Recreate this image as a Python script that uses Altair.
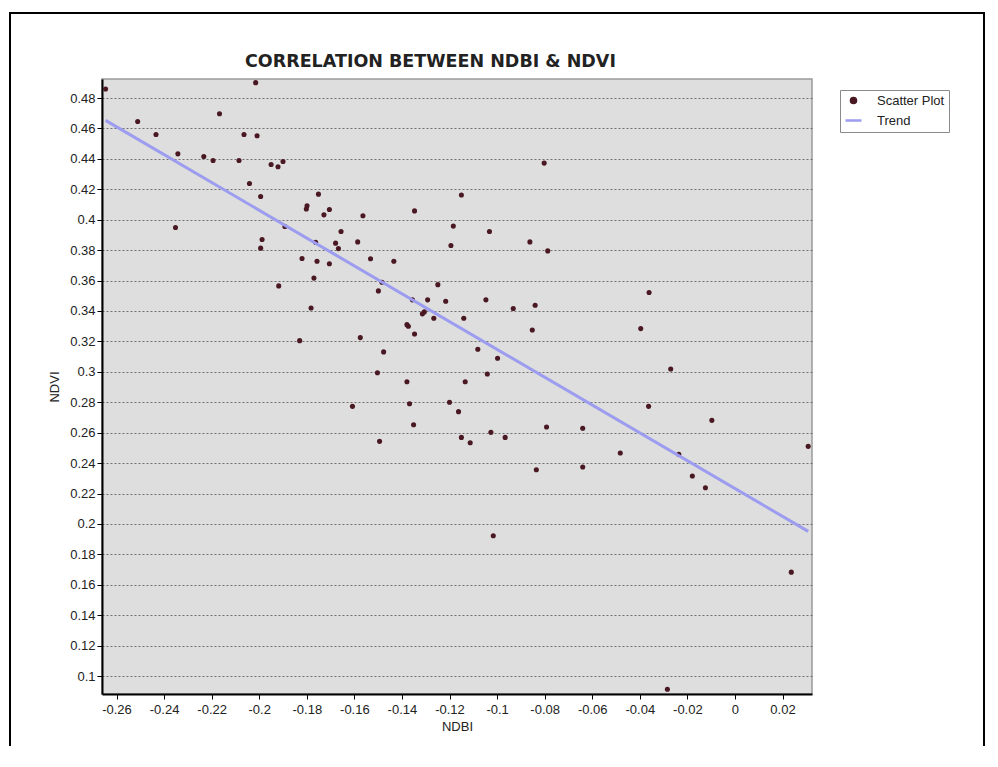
import altair as alt
import pandas as pd

# --- data ---
ndbi = [
    -0.2646, -0.2511, -0.2434, -0.2342, -0.2352, -0.2233, -0.2194, -0.2167, -0.2085, -0.2064,
    -0.2041, -0.2015, -0.2009, -0.1994, -0.1988, -0.1994, -0.1950, -0.1921, -0.1900, -0.1918,
    -0.1802, -0.1799, -0.1820, -0.1757, -0.1763, -0.1770, -0.1751, -0.1782, -0.1830, -0.1892,
    -0.1728, -0.1705, -0.1656, -0.1679, -0.1667, -0.1586, -0.1564, -0.1705, -0.1532, -0.1434,
    -0.1484, -0.1499, -0.1347, -0.1249, -0.1292, -0.1356, -0.1216, -0.1184, -0.1194, -0.1150,
    -0.1032, -0.1047, -0.0932, -0.0840, -0.0862, -0.0787, -0.0802, -0.0361, -0.1575, -0.1477,
    -0.1503, -0.1608, -0.1494, -0.1379, -0.1373, -0.1347, -0.1314, -0.1306, -0.1266, -0.1140,
    -0.1379, -0.1368, -0.1351, -0.1200, -0.1162, -0.1134, -0.1150, -0.1113, -0.1081, -0.1041,
    -0.0998, -0.0852, -0.0792, -0.1026, -0.0966, -0.0835, -0.1016, -0.0396, -0.0270, -0.0363,
    -0.0097, -0.0640, -0.0640, -0.0482, -0.0236, -0.0179, -0.0124, 0.0308, 0.0237, -0.0284,
]
ndvi = [
    0.4859, 0.4646, 0.4560, 0.4433, 0.3949, 0.4416, 0.4389, 0.4697, 0.4389, 0.4560,
    0.4238, 0.4901, 0.4552, 0.4153, 0.3870, 0.3813, 0.4363, 0.4348, 0.4383, 0.3565,
    0.4070, 0.4091, 0.3745, 0.3727, 0.3852, 0.3616, 0.4168, 0.3420, 0.3205, 0.3955,
    0.4032, 0.4067, 0.3922, 0.3846, 0.3810, 0.3854, 0.4026, 0.3710, 0.3743, 0.3727,
    0.3589, 0.3532, 0.4058, 0.3573, 0.3473, 0.3473, 0.3464, 0.3958, 0.3830, 0.4162,
    0.3922, 0.3473, 0.3416, 0.3438, 0.3854, 0.3795, 0.4372, 0.3521, 0.3225, 0.3131,
    0.2994, 0.2773, 0.2543, 0.3310, 0.3300, 0.3249, 0.3381, 0.3394, 0.3352, 0.3352,
    0.2935, 0.2790, 0.2652, 0.2800, 0.2738, 0.2935, 0.2569, 0.2534, 0.3148, 0.2986,
    0.3089, 0.3275, 0.2637, 0.2602, 0.2569, 0.2356, 0.1922, 0.3284, 0.3019, 0.2773,
    0.2681, 0.2629, 0.2374, 0.2466, 0.2458, 0.2315, 0.2238, 0.2510, 0.1683, 0.0913,
]
trend_ndbi = [-0.2646, 0.0308]
trend_ndvi = [0.4653, 0.1951]

series_names = ["Scatter Plot", "Trend"]
x_ticks = [-0.26, -0.24, -0.22, -0.2, -0.18, -0.16, -0.14, -0.12, -0.1, -0.08,
           -0.06, -0.04, -0.02, 0, 0.02]
y_ticks = [0.1, 0.12, 0.14, 0.16, 0.18, 0.2, 0.22, 0.24, 0.26, 0.28, 0.3,
           0.32, 0.34, 0.36, 0.38, 0.4, 0.42, 0.44, 0.46, 0.48]

scatter_df = pd.DataFrame({"NDBI": ndbi, "NDVI": ndvi, "series": series_names[0]})
trend_df = pd.DataFrame({"NDBI": trend_ndbi, "NDVI": trend_ndvi, "series": series_names[1]})

FONT = "Liberation Sans"
label_expr = "replace(format(datum.value, '~g'), '\u2212', '-')"

x_enc = alt.X(
    "NDBI:Q",
    scale=alt.Scale(domain=[-0.2661, 0.0324], nice=False, zero=False),
    axis=alt.Axis(values=x_ticks, tickCount=40, labelExpr=label_expr, grid=False,
                  title="NDBI", labelPadding=4, titlePadding=4, labelOverlap=False),
)
y_enc = alt.Y(
    "NDVI:Q",
    scale=alt.Scale(domain=[0.0882, 0.4925], nice=False, zero=False),
    axis=alt.Axis(values=y_ticks, tickCount=40, labelExpr=label_expr, grid=True,
                  gridDash=[2, 2], gridColor="#707070", gridWidth=1, title="NDVI",
                  labelPadding=2, titlePadding=8, labelOverlap=False, labelBound=False),
)

legend = alt.Legend(
    title=None, orient="none", legendX=738, legendY=11,
    fillColor="white", strokeColor="#8a8a8a", padding=4, rowPadding=2,
    labelFont=FONT, labelFontSize=13, labelColor="#222", labelOffset=14,
    symbolStrokeWidth=2.5,
)
color_enc = alt.Color("series:N",
                      scale=alt.Scale(domain=series_names, range=["#4a1822", "#9c9cf0"]),
                      legend=legend)
shape_enc = alt.Shape("series:N",
                      scale=alt.Scale(domain=series_names, range=["circle", "stroke"]),
                      legend=legend)
size_enc = alt.Size("series:N",
                    scale=alt.Scale(domain=series_names, range=[26, 256]),
                    legend=legend)

points = alt.Chart(scatter_df).mark_point(filled=True, opacity=1).encode(
    x=x_enc, y=y_enc, color=color_enc, shape=shape_enc, size=size_enc
)
trend = alt.Chart(trend_df).mark_line(strokeWidth=3).encode(
    x="NDBI:Q", y="NDVI:Q", color=color_enc
)
frame = alt.Chart(alt.Data(values=[{"f": 1}])).mark_rect(
    filled=False, stroke="black", strokeWidth=2
).encode(x=alt.value(-92), x2=alt.value(882), y=alt.value(-66), y2=alt.value(720))

chart = alt.layer(points, trend, frame).properties(
    width=710, height=615,
    autosize=alt.AutoSizeParams(type="none"),
    padding={"left": 94, "top": 71, "right": 176, "bottom": 52},
    title=alt.TitleParams("CORRELATION BETWEEN NDBI & NDVI", anchor="start", dx=236,
                          dy=70, font="DejaVu Sans", fontSize=17.5, fontWeight="bold",
                          color="#222", offset=12),
).configure_view(
    fill="#dedede", stroke="#9a9a9a", strokeWidth=1.5
).configure_axis(
    domainColor="black", domainWidth=2, tickColor="black", tickSize=5, tickWidth=1,
    labelFont=FONT, labelFontSize=13, labelColor="#222",
    titleFont=FONT, titleFontSize=13, titleFontWeight="normal", titleColor="#222",
)

chart.save("out.html", embed_options={"renderer": "svg", "actions": False})
